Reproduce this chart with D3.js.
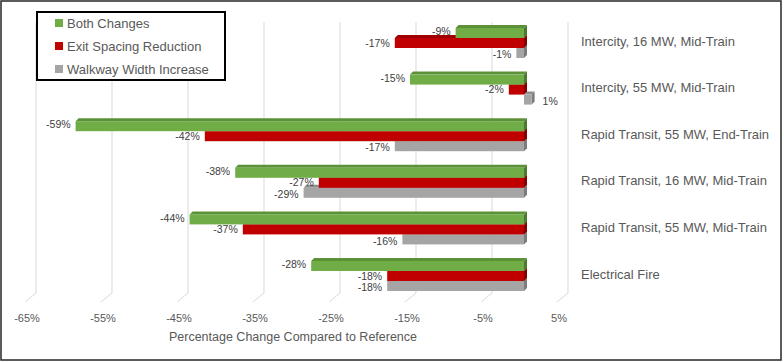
<!DOCTYPE html>
<html>
<head>
<meta charset="utf-8">
<script src="https://cdn.jsdelivr.net/npm/d3@7"></script>
<style>
body { margin: 0; background: #fff; }
svg { display: block; font-family: "Liberation Sans", Arial, sans-serif; }
</style>
</head>
<body>
<svg id="chart" width="784" height="362"></svg>
<script>
var categories = [
    "Intercity, 16 MW, Mid-Train",
    "Intercity, 55 MW, Mid-Train",
    "Rapid Transit, 55 MW, End-Train",
    "Rapid Transit, 16 MW, Mid-Train",
    "Rapid Transit, 55 MW, Mid-Train",
    "Electrical Fire"
];
var seriesNames = ["Both Changes", "Exit Spacing Reduction", "Walkway Width Increase"];
var bothChanges = [-9, -15, -59, -38, -44, -28];
var exitSpacing = [-17, -2, -42, -27, -37, -18];
var walkwayWidth = [-1, 1, -17, -29, -16, -18];
var tickValues = [-65, -55, -45, -35, -25, -15, -5, 5];

var seriesValues = [bothChanges, exitSpacing, walkwayWidth];
// front, top, side colours
var COLORS = [
    {front: "#70ad47", top: "#5c9137", side: "#4d7a2e"},
    {front: "#c00000", top: "#9e0000", side: "#850000"},
    {front: "#a5a5a5", top: "#8e8e8e", side: "#7c7c7c"}
];
var LABEL_NUDGE = [-1.5, 0, 1.5]; // data labels spread a little, like the original
var DEPTH = 3;          // 3d offset of bar top/side faces
var FRONT_SHIFT = -6;   // bars sit in front of the back wall
var WALL_TOP = 22;
var WALL_BOTTOM = 293;
var FLOOR_DX = -11;
var FLOOR_DY = 9;

var svg = d3.select("#chart");

var x = d3.scaleLinear().domain([-65, 5]).range([36, 568]);
var y = d3.scaleBand().domain(categories).range([19.7, 299.3]).paddingInner(0.356).paddingOuter(0.178);
var sub = d3.scaleBand().domain(d3.range(seriesNames.length)).range([0, y.bandwidth()]);

// outer chart border
svg.append("rect")
    .attr("x", 1).attr("y", 1).attr("width", 780).attr("height", 359)
    .style("fill", "none").style("stroke", "#262626").style("stroke-width", 1.5);

// back wall gridlines + floor lines
var grid = svg.append("g");
tickValues.forEach(function(t) {
    grid.append("path")
        .attr("d", "M" + x(t) + "," + WALL_TOP + "V" + WALL_BOTTOM +
            "l" + FLOOR_DX + "," + FLOOR_DY)
        .style("fill", "none").style("stroke", "#d9d9d9").style("stroke-width", 1);
});

// tick labels on the floor front edge
svg.append("g").selectAll("text")
    .data(tickValues)
    .enter().append("text")
    .attr("x", function(d) { return x(d) - 9; })
    .attr("y", 318)
    .attr("dy", "0.35em")
    .attr("text-anchor", "middle")
    .style("font-size", "11px")
    .style("fill", "#595959")
    .text(function(d) { return d + "%"; });

svg.append("text")
    .attr("x", 293).attr("y", 337).attr("dy", "0.35em")
    .attr("text-anchor", "middle")
    .style("font-size", "12.5px").style("fill", "#595959")
    .text("Percentage Change Compared to Reference");

// bars, drawn bottom series first so the upper bar hides the top face below it
var bars = svg.append("g");
function px(v) { return x(v) + FRONT_SHIFT; }

categories.forEach(function(cat, ci) {
    for (var s = seriesNames.length - 1; s >= 0; s--) {
        var v = seriesValues[s][ci];
        var x0 = Math.min(px(0), px(v));
        var x1 = Math.max(px(0), px(v));
        var y0 = y(cat) + sub(s);
        var y1 = y0 + sub.bandwidth();
        var c = COLORS[s];
        var g = bars.append("g");
        g.append("path")
            .attr("d", "M" + x0 + "," + y0 + "L" + x1 + "," + y0 +
                "L" + (x1 + DEPTH) + "," + (y0 - DEPTH) + "L" + (x0 + DEPTH) + "," + (y0 - DEPTH) + "Z")
            .style("fill", c.top);
        g.append("path")
            .attr("d", "M" + x1 + "," + y0 + "L" + (x1 + DEPTH) + "," + (y0 - DEPTH) +
                "L" + (x1 + DEPTH) + "," + (y1 - DEPTH) + "L" + x1 + "," + y1 + "Z")
            .style("fill", c.side);
        g.append("rect")
            .attr("x", x0).attr("y", y0)
            .attr("width", x1 - x0).attr("height", y1 - y0)
            .style("fill", c.front);
    }
});

// data labels
var labels = svg.append("g");
categories.forEach(function(cat, ci) {
    seriesNames.forEach(function(name, s) {
        var v = seriesValues[s][ci];
        var yc = y(cat) + sub(s) + sub.bandwidth() / 2 + LABEL_NUDGE[s];
        labels.append("text")
            .attr("x", v < 0 ? px(v) - 5 : px(v) + 11)
            .attr("y", yc)
            .attr("dy", "0.35em")
            .attr("text-anchor", v < 0 ? "end" : "start")
            .style("font-size", "10.5px")
            .style("fill", "#404040")
            .text(v + "%");
    });
});

// category labels on the right
svg.append("g").selectAll("text")
    .data(categories)
    .enter().append("text")
    .attr("x", 581)
    .attr("y", function(d) { return y(d) + y.bandwidth() / 2 - 2; })
    .attr("dy", "0.35em")
    .style("font-size", "13px")
    .style("fill", "#595959")
    .text(function(d) { return d; });

// legend
var legend = svg.append("g");
legend.append("rect")
    .attr("x", 37).attr("y", 12).attr("width", 188).attr("height", 68)
    .style("fill", "#fff").style("stroke", "#000").style("stroke-width", 2);
seriesNames.forEach(function(name, i) {
    var ly = 23 + i * 23;
    legend.append("rect")
        .attr("x", 55).attr("y", ly - 4).attr("width", 8).attr("height", 8)
        .style("fill", COLORS[i].front);
    legend.append("text")
        .attr("x", 67).attr("y", ly).attr("dy", "0.35em")
        .style("font-size", "13px").style("fill", "#595959")
        .text(name);
});
</script>
</body>
</html>
